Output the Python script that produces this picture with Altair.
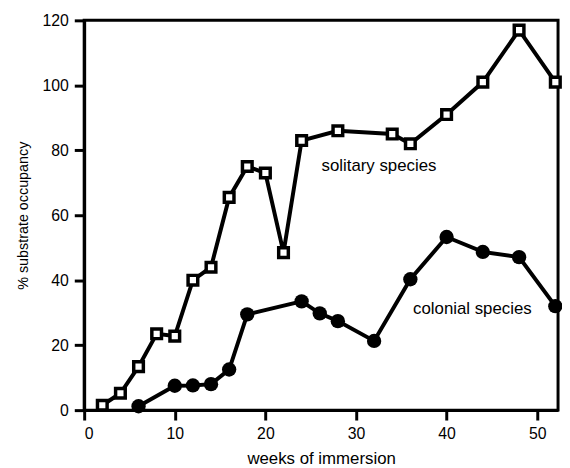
import altair as alt
import pandas as pd

sol_weeks = [2, 4, 6, 8, 10, 12, 14, 16, 18, 20, 22, 24, 28, 34, 36, 40, 44, 48, 52]
sol_occ = [1.5, 5.2, 13.4, 23.5, 22.8, 40, 44, 65.5, 75, 73, 48.5, 83, 86, 85, 82, 91, 101, 117, 101]

col_weeks = [6, 10, 12, 14, 16, 18, 24, 26, 28, 32, 36, 40, 44, 48, 52]
col_occ = [1.2, 7.5, 7.6, 8, 12.5, 29.5, 33.5, 29.8, 27.4, 21.3, 40.3, 53.3, 48.7, 47.1, 32]

labels = ["solitary species", "colonial species"]
label_x = [26.2, 36.3]
label_y = [75, 31]

sol = pd.DataFrame({"weeks": sol_weeks, "occ": sol_occ})
col = pd.DataFrame({"weeks": col_weeks, "occ": col_occ})
lab = pd.DataFrame({"text": labels, "weeks": label_x, "occ": label_y})

xs = alt.X("weeks:Q", scale=alt.Scale(domain=[0, 52.3], nice=False, zero=False),
           axis=alt.Axis(title="weeks of immersion", values=[0, 10, 20, 30, 40, 50],
                         titleFontSize=17, titlePadding=9, labelPadding=6))
ys = alt.Y("occ:Q", scale=alt.Scale(domain=[0, 120], nice=False),
           axis=alt.Axis(title="% substrate occupancy", values=[0, 20, 40, 60, 80, 100, 120],
                         titleFontSize=14.5, titlePadding=12, labelPadding=6))

sol_line = alt.Chart(sol).mark_line(color="black", strokeWidth=4).encode(x=xs, y=ys)
sol_pts = alt.Chart(sol).mark_point(shape="square", filled=True, fill="white", stroke="black",
                                    strokeWidth=3.5, size=95, opacity=1).encode(x=xs, y=ys)
col_line = alt.Chart(col).mark_line(color="black", strokeWidth=4).encode(x=xs, y=ys)
col_pts = alt.Chart(col).mark_circle(color="black", size=210, opacity=1).encode(x=xs, y=ys)
txt = alt.Chart(lab).mark_text(align="left", baseline="middle", fontSize=17,
                               font="Liberation Sans", color="black").encode(x=xs, y=ys, text="text:N")

chart = alt.layer(sol_line, col_line, sol_pts, col_pts, txt).properties(
    width=479, height=394,
    autosize=alt.AutoSizeParams(type="none"),
    padding={"left": 77, "top": 10, "right": 4, "bottom": 56},
).configure_view(stroke="black", strokeWidth=3).configure_axis(
    grid=False, domainColor="black", domainWidth=3, tickColor="black", tickWidth=3,
    tickSize=10, labelFont="Liberation Sans", titleFont="Liberation Sans",
    labelFontSize=16, titleFontWeight="normal", labelColor="black",
    titleColor="black"
)

chart.save("out.html", embed_options={"renderer": "svg", "actions": False})
